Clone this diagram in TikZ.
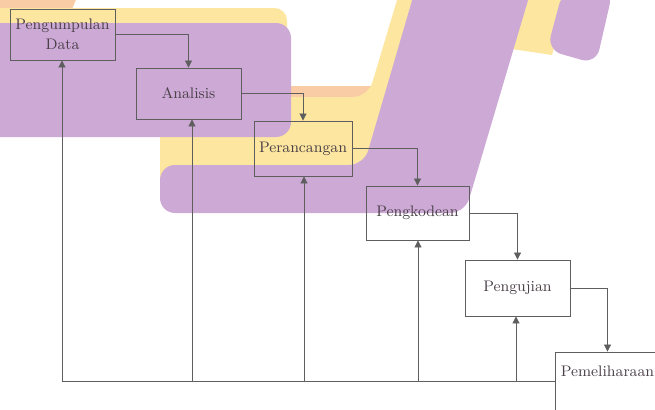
\documentclass[tikz,border=0pt]{standalone}
\usetikzlibrary{arrows.meta,calc}
\definecolor{lav}{HTML}{CDA9D6}
\definecolor{ylw}{HTML}{FCE6A0}
\definecolor{org}{HTML}{F9CCA6}
\definecolor{ln}{HTML}{5E5E5E}
\definecolor{tx}{HTML}{4A4048}
\begin{document}
\begin{tikzpicture}[x=0.02cm,y=-0.02cm,
 stagebox/.style={draw=ln, line width=0.5pt, text=tx, font=\fontsize{8.7}{11.3}\selectfont, align=center, inner sep=2pt},
 flow/.style={draw=ln, line width=0.5pt, -{Triangle[length=4pt,width=4pt]}},
 plain/.style={draw=ln, line width=0.5pt}]
\useasboundingbox (0,0) rectangle (655,409);
\clip (0,0) rectangle (655,409);
% background decoration
\fill[org] (-10,-10) -- (80,-10) -- (70,14) -- (-10,14) -- cycle;
\fill[org] (250,86) -- (372,86) -- (340,200) -- (250,200) -- cycle;
\fill[ylw, rounded corners=0.25cm] (-30,8) rectangle (287,100);
\fill[ylw, rounded corners=0.3cm] (160,200) -- (160,97) -- (368,97) -- (403,-20) -- (460,-20) -- (400,200) -- cycle;
\fill[ylw] (505,-10) -- (570,-10) -- (552,55) -- (505,48) -- cycle;
\fill[lav, rounded corners=0.3cm] (-30,23) rectangle (291,137);
\fill[lav, rounded corners=0.3cm] (160,213) -- (160,165) -- (364,165) -- (418,-20) -- (534,-20) -- (465,213) -- cycle;
\fill[lav, rounded corners=0.3cm] (563,-10) -- (613,-10) -- (596,64) -- (547,50) -- cycle;
% stages
\node[stagebox, minimum width=2.1cm, minimum height=1.02cm] (pd) at (62.5,34.5) {Pengumpulan\\Data};
\node[stagebox, minimum width=2.1cm, minimum height=1.02cm] (an) at (188.5,93.5) {Analisis};
\node[stagebox, minimum width=1.96cm, minimum height=1.1cm] (pr) at (303,148.5) {Perancangan};
\node[stagebox, minimum width=2.06cm, minimum height=1.08cm] (pk) at (417.5,213) {Pengkodean};
\node[stagebox, minimum width=2.1cm, minimum height=1.12cm] (pj) at (517.5,288) {Pengujian};
\node[stagebox, minimum width=2.1cm, minimum height=1.2cm, text height=6.5pt, text depth=13pt] (pm) at (607.5,382) {Pemeliharaan};
% forward flow
\draw[flow] (pd.east) -| (an.north);
\draw[flow] (an.east) -| (pr.north);
\draw[flow] (pr.east) -| (pk.north);
\draw[flow] (pk.east) -| (pj.north);
\draw[flow] (pj.east) -| (pm.north);
% feedback
\coordinate (f1) at (62,381);
\coordinate (f2) at (192,381);
\coordinate (f3) at (304,381);
\coordinate (f4) at (418,381);
\coordinate (f5) at (516,381);
\draw[plain] (f1) -- (f1 -| pm.west);
\draw[flow] (f1) -- (f1 |- pd.south);
\draw[flow] (f2) -- (f2 |- an.south);
\draw[flow] (f3) -- (f3 |- pr.south);
\draw[flow] (f4) -- (f4 |- pk.south);
\draw[flow] (f5) -- (f5 |- pj.south);
\end{tikzpicture}
\end{document}
